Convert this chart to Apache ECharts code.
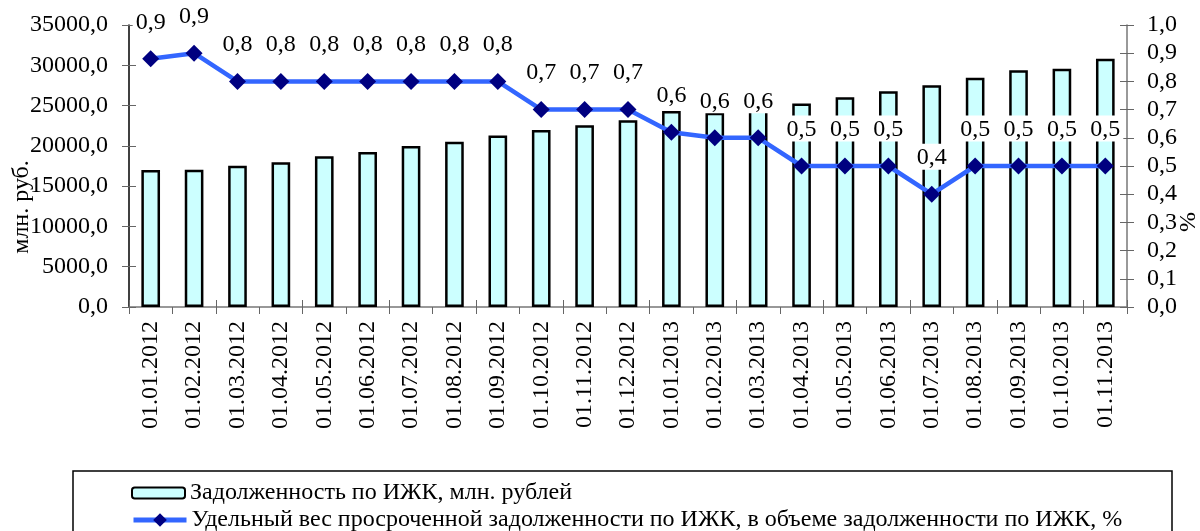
<!DOCTYPE html>
<html>
<head>
<meta charset="utf-8">
<script src="https://cdn.jsdelivr.net/npm/echarts@6/dist/echarts.min.js"></script>
<style>
html,body{margin:0;padding:0;background:#fff;}
#chart{width:1200px;height:531px;}
</style>
</head>
<body>
<div id="chart"></div>
<script>
const categories = ['01.01.2012','01.02.2012','01.03.2012','01.04.2012','01.05.2012','01.06.2012','01.07.2012','01.08.2012','01.09.2012','01.10.2012','01.11.2012','01.12.2012','01.01.2013','01.02.2013','01.03.2013','01.04.2013','01.05.2013','01.06.2013','01.07.2013','01.08.2013','01.09.2013','01.10.2013','01.11.2013'];
const debtValues = [17000, 17050, 17540, 17960, 18700, 19240, 19980, 20520, 21270, 21970, 22550, 23170, 24330, 24120, 24660, 25250, 26030, 26770, 27520, 28460, 29380, 29580, 30820];
const overdueShare = [0.88, 0.90, 0.80, 0.80, 0.80, 0.80, 0.80, 0.80, 0.80, 0.70, 0.70, 0.70, 0.62, 0.60, 0.60, 0.50, 0.50, 0.50, 0.40, 0.50, 0.50, 0.50, 0.50];
const leftTicks = {min: 0, max: 35000, interval: 5000};
const rightTicks = {min: 0, max: 1.0, interval: 0.1};
const seriesNames = ['Задолженность по ИЖК, млн. рублей', 'Удельный вес просроченной задолженности по ИЖК, в объеме задолженности по ИЖК, %'];
const leftAxisName = 'млн. руб.';
const rightAxisName = '%';
</script>
<script>
const FONT = 'Liberation Serif, Times New Roman, serif';
const FS = 24;
const comma = (v, d) => Number(v).toFixed(d).replace('.', ',');
const chart = echarts.init(document.getElementById('chart'), null, {renderer: 'canvas'});

const tickStyle = {color: '#666', width: 1};
const legendText = {color: '#000', fontFamily: FONT, fontSize: FS};
const option = {
  animation: false,
  backgroundColor: '#fff',
  grid: {left: 129, right: 73, top: 25, bottom: 224, containLabel: false},
  xAxis: [
    {type: 'category', data: categories, boundaryGap: true,
     axisLine: {lineStyle: {color: '#777', width: 1.5}},
     axisTick: {show: true, length: 7, lineStyle: tickStyle},
     axisLabel: {rotate: 90, margin: 14, color: '#000', fontFamily: FONT, fontSize: FS, interval: 0}},
    {type: 'category', data: categories, boundaryGap: true, position: 'bottom',
     axisLine: {show: false},
     axisTick: {show: true, inside: true, length: 7, lineStyle: tickStyle},
     axisLabel: {show: false}}
  ],
  yAxis: [
    {type: 'value', min: leftTicks.min, max: leftTicks.max, interval: leftTicks.interval, position: 'left',
     axisLine: {show: true, lineStyle: {color: '#000', width: 1.5}},
     axisTick: {show: true, length: 7, lineStyle: tickStyle},
     splitLine: {show: false},
     axisLabel: {margin: 21, color: '#000', fontFamily: FONT, fontSize: FS, formatter: v => comma(v, 1)}},
    {type: 'value', min: rightTicks.min, max: rightTicks.max, interval: rightTicks.interval, position: 'right',
     axisLine: {show: true, lineStyle: {color: '#777', width: 1.5}},
     axisTick: {show: true, length: 7, lineStyle: tickStyle},
     splitLine: {show: false},
     axisLabel: {margin: 20, color: '#000', fontFamily: FONT, fontSize: FS, formatter: v => comma(v, 1)}},
    {type: 'value', min: leftTicks.min, max: leftTicks.max, interval: leftTicks.interval, position: 'left',
     axisLine: {show: false}, axisTick: {show: true, inside: true, length: 7, lineStyle: tickStyle},
     splitLine: {show: false}, axisLabel: {show: false}},
    {type: 'value', min: rightTicks.min, max: rightTicks.max, interval: rightTicks.interval, position: 'right',
     axisLine: {show: false}, axisTick: {show: true, inside: true, length: 7, lineStyle: tickStyle},
     splitLine: {show: false}, axisLabel: {show: false}}
  ],
  legend: [
    {left: 126, top: 476, itemWidth: 53, itemHeight: 11, padding: 5,
     textStyle: legendText, data: [seriesNames[0]]},
    {left: 126, top: 503, itemWidth: 53, itemHeight: 17, padding: 5,
     lineStyle: {width: 5}, textStyle: legendText, data: [seriesNames[1]]}
  ],
  series: [
    {name: seriesNames[0], type: 'bar', data: debtValues, xAxisIndex: 0, yAxisIndex: 0, barWidth: '43%',
     itemStyle: {color: '#CCFFFF', borderColor: '#000', borderWidth: 2.5}, z: 2},
    {name: seriesNames[1], type: 'line', data: overdueShare, xAxisIndex: 0, yAxisIndex: 1,
     symbol: 'diamond', symbolSize: 17,
     lineStyle: {color: '#3366FF', width: 4.5},
     itemStyle: {color: '#000080'},
     label: {show: true, position: 'top', distance: 16, color: '#000', fontFamily: FONT, fontSize: FS,
       backgroundColor: '#fff', padding: [2, 3, 0, 3], formatter: p => comma(p.value, 1)},
     z: 5}
  ],
  graphic: [
    {type: 'rect', shape: {x: 73, y: 471, width: 1099, height: 80}, style: {fill: 'none', stroke: '#000', lineWidth: 1.5}, z: -1},
    {type: 'text', x: 22, y: 207, rotation: Math.PI / 2, style: {text: leftAxisName, fill: '#000', font: FS + 'px ' + FONT, textAlign: 'center', textVerticalAlign: 'middle'}},
    {type: 'text', x: 1189, y: 222, rotation: Math.PI / 2, style: {text: rightAxisName, fill: '#000', font: FS + 'px ' + FONT, textAlign: 'center', textVerticalAlign: 'middle'}}
  ]
};
chart.setOption(option);
</script>
</body>
</html>
